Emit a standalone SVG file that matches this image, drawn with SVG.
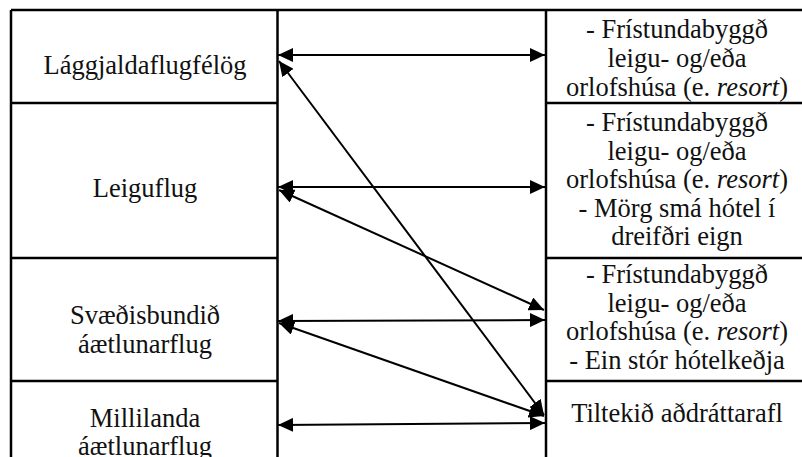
<svg xmlns="http://www.w3.org/2000/svg" width="802" height="457" viewBox="0 0 802 457">
<style>
.b{stroke:#000;stroke-width:2.5;fill:none}
.t{font-family:'Liberation Serif','Tinos','Times New Roman','DejaVu Serif',serif;font-size:26.5px;fill:#111;text-anchor:middle}
.c{stroke:#000;stroke-width:2;fill:none;marker-start:url(#ah);marker-end:url(#ah)}
</style>
<defs>
<marker id="ah" markerUnits="userSpaceOnUse" markerWidth="16" markerHeight="14" refX="15" refY="7" orient="auto-start-reverse">
<path d="M0,0 L15,7 L0,14 z" fill="#000"/>
</marker>
</defs>
<rect width="802" height="457" fill="#fff"/>
<g id="table">
<line class="b" x1="11" y1="10" x2="802" y2="10"/>
<line class="b" x1="11" y1="10" x2="11" y2="457"/>
<line class="b" x1="277.5" y1="10" x2="277.5" y2="457"/>
<line class="b" x1="546" y1="10" x2="546" y2="457"/>
<line class="b" x1="11" y1="103" x2="277.5" y2="103"/>
<line class="b" x1="11" y1="258" x2="277.5" y2="258"/>
<line class="b" x1="11" y1="381" x2="277.5" y2="381"/>
<line class="b" x1="546" y1="103" x2="802" y2="103"/>
<line class="b" x1="546" y1="258" x2="802" y2="258"/>
<line class="b" x1="546" y1="381" x2="802" y2="381"/>
</g>
<g id="n-laggjalda" font-family="Liberation Serif"><text class="t" x="145" y="74">Lággjaldaflugfélög</text></g>
<g id="n-leiguflug"><text class="t" x="145" y="197">Leiguflug</text></g>
<g id="n-svaedis"><text class="t" x="145" y="324">Svæðisbundið</text><text class="t" x="145" y="353">áætlunarflug</text></g>
<g id="n-millilanda"><text class="t" x="145" y="427">Millilanda</text><text class="t" x="145" y="455">áætlunarflug</text></g>
<g id="n-r1">
<text class="t" x="677" y="38">- Frístundabyggð</text>
<text class="t" x="677" y="67">leigu- og/eða</text>
<text class="t" x="677" y="96">orlofshúsa (e. <tspan font-style="italic">resort</tspan>)</text>
</g>
<g id="n-r2">
<text class="t" x="677" y="131">- Frístundabyggð</text>
<text class="t" x="677" y="159.5">leigu- og/eða</text>
<text class="t" x="677" y="188">orlofshúsa (e. <tspan font-style="italic">resort</tspan>)</text>
<text class="t" x="677" y="216.5">- Mörg smá hótel í</text>
<text class="t" x="677" y="245">dreifðri eign</text>
</g>
<g id="n-r3">
<text class="t" x="677" y="283">- Frístundabyggð</text>
<text class="t" x="677" y="311.5">leigu- og/eða</text>
<text class="t" x="677" y="340">orlofshúsa (e. <tspan font-style="italic">resort</tspan>)</text>
<text class="t" x="677" y="368.5">- Ein stór hótelkeðja</text>
</g>
<g id="n-r4"><text class="t" x="677" y="422">Tiltekið aðdráttarafl</text></g>
<g id="connectors">
<line class="c" x1="278" y1="55" x2="545" y2="55"/>
<line class="c" x1="279" y1="61" x2="544" y2="415"/>
<line class="c" x1="278" y1="187" x2="545" y2="187"/>
<line class="c" x1="279" y1="190" x2="544" y2="310"/>
<line class="c" x1="278" y1="321" x2="545" y2="320"/>
<line class="c" x1="279" y1="323" x2="544" y2="416"/>
<line class="c" x1="278" y1="425" x2="545" y2="423"/>
</g>
</svg>
